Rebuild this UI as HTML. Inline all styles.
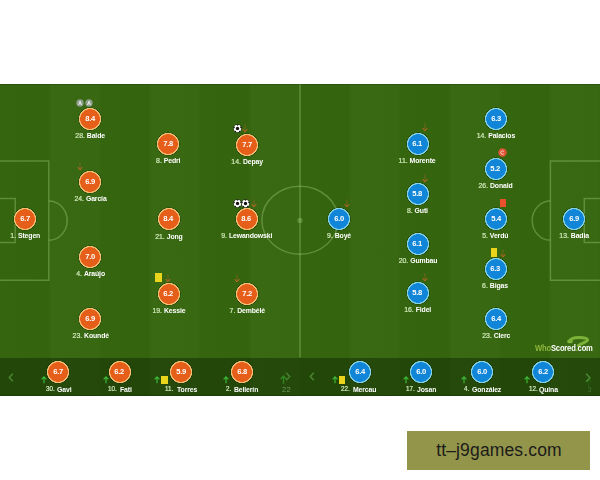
<!DOCTYPE html>
<html><head><meta charset="utf-8"><title>Lineups</title>
<style>
html,body{margin:0;padding:0;background:#fff}
body{width:600px;height:480px;position:relative;overflow:hidden;font-family:"Liberation Sans",sans-serif}
#pitch{position:absolute;left:0;top:84px;width:600px;height:311.5px;overflow:hidden;
 background:repeating-linear-gradient(90deg,#36650f 0,#35640f 48.5px,#3a6914 51.5px,#396813 98.5px,#36650f 101.5px,#35640f 148.5px,#3a6914 151.5px,#396813 198.5px,#36650f 200px)}
#wrap{position:absolute;left:0;top:-84px;width:600px;height:480px;will-change:transform}
#bench{position:absolute;left:0;top:357.5px;width:600px;height:38px;background:rgba(10,30,0,.42)}
.ln{position:absolute;border:1px solid rgba(190,225,150,.34);box-sizing:border-box}
.c{position:absolute;width:24px;height:24px;margin:-1px 0 0 -1px;border-radius:50%;text-align:center;
 line-height:24.8px;color:#fff;font-weight:bold;font-size:8px;letter-spacing:-.3px}
.c span{display:inline-block;transform:scaleX(.95)}
.c.h{background:radial-gradient(circle closest-side,#e55f1b 0,#e55f1b 79.5%,#f2c070 83.5%,#f2c070 90.5%,rgba(20,40,5,.6) 94%,rgba(20,40,5,0) 100%)}
.c.a{background:radial-gradient(circle closest-side,#1185d7 0,#1185d7 79.5%,#84d3e2 83.5%,#84d3e2 90.5%,rgba(20,40,5,.6) 94%,rgba(20,40,5,0) 100%)}
.l{position:absolute;width:80px;text-align:center;font-size:7.5px;line-height:10px;color:#fff;white-space:nowrap}
.l .t{display:inline-block;transform:scaleX(.92);transform-origin:50% 50%}
.l i{font-style:normal;color:#d3ecbc;-webkit-text-stroke:.2px #d3ecbc}
.l b{font-weight:bold;letter-spacing:-.15px}
.bn{position:absolute;font-size:6.6px;line-height:9px;color:#d6ecc4;-webkit-text-stroke:.2px #d6ecc4;white-space:nowrap;transform:scaleX(.95);transform-origin:0 50%}
.bm{position:absolute;font-size:7.5px;line-height:10px;color:#fff;font-weight:bold;white-space:nowrap;letter-spacing:-.15px;transform:scaleX(.92);transform-origin:0 50%}
.ic{position:absolute;display:block}
#box{position:absolute;left:407px;top:431px;width:183px;height:39px;background:#93954a;color:#1b1b1b;
 font-size:17.5px;line-height:39.6px;text-align:center;letter-spacing:.15px;text-indent:1px}
#ws{position:absolute;left:535px;top:342.5px;font-size:8.2px;line-height:11px;font-weight:bold;color:#fff;white-space:nowrap;letter-spacing:-.2px;transform:scaleX(.93);transform-origin:0 50%}
#ws u{text-decoration:none;color:#8db63c}
</style></head><body>
<div id="pitch"><div id="wrap">
<div id="bench"></div>
<!-- pitch markings -->
<svg class="ic" style="left:0;top:84px" width="600" height="274" viewBox="0 84 600 274"><g fill="none" stroke="rgba(178,222,140,.33)" stroke-width="1.5">
<path d="M300 84V357.5"/>
<ellipse cx="300" cy="220.2" rx="38.1" ry="34"/>
<path d="M-2 161H48.8V280.2H-2"/>
<path d="M-2 198.4H15.2V242.4H-2"/>
<path d="M48.8 201A18.4 19.6 0 0 1 48.8 240.2"/>
<path d="M602 161H550.4V280.2H602"/>
<path d="M602 198.5H584.3V242.6H602"/>
<path d="M550.4 201A18.2 19.6 0 0 0 550.4 240.2"/>
</g><circle cx="300" cy="220.4" r="2.6" fill="rgba(178,222,140,.3)"/></svg>
<div style="position:absolute;left:0;top:84px;width:600px;height:1px;background:rgba(20,40,0,.28)"></div>
<div style="position:absolute;left:0;top:394.5px;width:600px;height:1px;background:rgba(10,25,0,.3)"></div>
<!-- chevrons -->
<svg class="ic" style="left:7.5px;top:372.5px" width="6" height="9" viewBox="0 0 6 9"><path d="M4.8 .8L1.3 4.5L4.8 8.2" fill="none" stroke="#4b8731" stroke-width="1.5"/></svg>
<svg class="ic" style="left:309px;top:371.8px" width="6" height="9" viewBox="0 0 6 9"><path d="M4.8 .8L1.3 4.5L4.8 8.2" fill="none" stroke="#4b8731" stroke-width="1.5"/></svg>
<svg class="ic" style="left:284.5px;top:371.5px" width="6" height="9" viewBox="0 0 6 9"><path d="M1.2 .8L4.7 4.5L1.2 8.2" fill="none" stroke="#47802e" stroke-width="1.5"/></svg>
<svg class="ic" style="left:585px;top:372.5px" width="6" height="9.5" viewBox="0 0 6 9.5"><path d="M1.2 .8L4.9 4.8L1.2 8.7" fill="none" stroke="#4b8731" stroke-width="1.6"/></svg>
<svg class="ic" style="left:280px;top:375px;opacity:.5" width="7" height="9" viewBox="0 0 7 9"><path d="M3.5 8.8V1.2M0.7 4L3.5 1L6.3 4" fill="none" stroke="#3fc23a" stroke-width="1.4"/></svg>
<svg class="ic" style="left:584.5px;top:377.5px;opacity:.13" width="7" height="9" viewBox="0 0 7 9"><path d="M3.5 8.5V1.2M0.7 4L3.5 1L6.3 4" fill="none" stroke="#3fc23a" stroke-width="1.3"/></svg>
<div class="bn" style="left:281.5px;top:384.6px;color:#6c9a5a;-webkit-text-stroke:0;font-size:8px;letter-spacing:.2px">22</div>
<div class="bn" style="left:588.3px;top:385px;color:#437a32;-webkit-text-stroke:0;font-size:6.5px">3</div>
<!-- watermark logo -->
<svg class="ic" style="left:565px;top:334px" width="26" height="14" viewBox="0 0 26 14"><path d="M4.2 7.4C5.5 4.2 10 3.4 14 3.4C18.5 3.4 22.6 4.2 22.6 6.1C22.6 7.9 17 8.9 13.4 11.4" fill="none" stroke="#7db238" stroke-width="3" stroke-linecap="round"/><ellipse cx="5" cy="7.4" rx="2.8" ry="1.9" fill="#7db238"/></svg>
<div id="ws"><u>Who</u>Scored<u>.</u>com</div>
<div class="c h" style="left:14.2px;top:208.2px"><span>6.7</span></div><div class="l" style="left:-14.8px;top:231.1px"><span class="t"><i>1.</i> <b>Stegen</b></span></div>
<div class="c h" style="left:79.2px;top:108.0px"><span>8.4</span></div><div class="l" style="left:50.2px;top:131.3px"><span class="t"><i>28.</i> <b>Balde</b></span></div><svg class="ic" style="left:76.0px;top:99.0px" width="8" height="8" viewBox="0 0 8 8"><circle cx="4" cy="4" r="3.7" fill="#8c9c8a"/><path d="M2.5 6L4 2L5.5 6M3 4.8H5" fill="none" stroke="#e8eee6" stroke-width=".9"/></svg><svg class="ic" style="left:85.0px;top:99.0px" width="8" height="8" viewBox="0 0 8 8"><circle cx="4" cy="4" r="3.7" fill="#8c9c8a"/><path d="M2.5 6L4 2L5.5 6M3 4.8H5" fill="none" stroke="#e8eee6" stroke-width=".9"/></svg>
<div class="c h" style="left:79.2px;top:170.7px"><span>6.9</span></div><div class="l" style="left:50.2px;top:194.2px"><span class="t"><i>24.</i> <b>Garcia</b></span></div><svg class="ic" style="left:77.4px;top:161.5px" width="6" height="8.5" viewBox="0 0 6 8.5"><path d="M3 0.3V7.6" fill="none" stroke="#c0662a" stroke-width="1" opacity=".45"/><path d="M0.6 5.2L3 7.8L5.4 5.2" fill="none" stroke="#c8662a" stroke-width="1.1" opacity=".75"/></svg>
<div class="c h" style="left:79.4px;top:245.7px"><span>7.0</span></div><div class="l" style="left:50.4px;top:268.8px"><span class="t"><i>4.</i> <b>Araújo</b></span></div>
<div class="c h" style="left:79.3px;top:308.1px"><span>6.9</span></div><div class="l" style="left:50.3px;top:331.1px"><span class="t"><i>23.</i> <b>Koundé</b></span></div>
<div class="c h" style="left:157.2px;top:133.2px"><span>7.8</span></div><div class="l" style="left:128.2px;top:156.3px"><span class="t"><i>8.</i> <b>Pedri</b></span></div>
<div class="c h" style="left:157.5px;top:208.0px"><span>8.4</span></div><div class="l" style="left:128.5px;top:231.5px"><span class="t"><i>21.</i> <b>Jong</b></span></div>
<div class="c h" style="left:157.5px;top:282.8px"><span>6.2</span></div><div class="l" style="left:128.5px;top:306.1px"><span class="t"><i>19.</i> <b>Kessie</b></span></div><div class="ic" style="left:155.2px;top:273.0px;width:6.5px;height:8.8px;background:#ead41c"></div><svg class="ic" style="left:165.0px;top:273.6px" width="6" height="8.5" viewBox="0 0 6 8.5"><path d="M3 0.3V7.6" fill="none" stroke="#c0662a" stroke-width="1" opacity=".45"/><path d="M0.6 5.2L3 7.8L5.4 5.2" fill="none" stroke="#c8662a" stroke-width="1.1" opacity=".75"/></svg>
<div class="c h" style="left:236.0px;top:133.5px"><span>7.7</span></div><div class="l" style="left:207.0px;top:156.6px"><span class="t"><i>14.</i> <b>Depay</b></span></div><svg class="ic" style="left:232.5px;top:123.5px" width="9" height="9" viewBox="0 0 9 9"><circle cx="4.5" cy="4.5" r="4.2" fill="#1d2a12"/><circle cx="4.5" cy="4.5" r="3.7" fill="#fff"/><circle cx="4.5" cy="4.5" r="1.65" fill="#111"/><circle cx="4.5" cy="0.9" r=".8" fill="#222"/><circle cx="1.1" cy="3.4" r=".8" fill="#222"/><circle cx="7.9" cy="3.4" r=".8" fill="#222"/><circle cx="2.4" cy="7.5" r=".8" fill="#222"/><circle cx="6.6" cy="7.5" r=".8" fill="#222"/></svg><svg class="ic" style="left:242.0px;top:124.3px" width="6" height="8.5" viewBox="0 0 6 8.5"><path d="M3 0.3V7.6" fill="none" stroke="#c0662a" stroke-width="1" opacity=".45"/><path d="M0.6 5.2L3 7.8L5.4 5.2" fill="none" stroke="#c8662a" stroke-width="1.1" opacity=".75"/></svg>
<div class="c h" style="left:235.6px;top:208.1px"><span>8.6</span></div><div class="l" style="left:206.6px;top:231.1px"><span class="t"><i>9.</i> <b>Lewandowski</b></span></div><svg class="ic" style="left:232.5px;top:198.6px" width="9" height="9" viewBox="0 0 9 9"><circle cx="4.5" cy="4.5" r="4.2" fill="#1d2a12"/><circle cx="4.5" cy="4.5" r="3.7" fill="#fff"/><circle cx="4.5" cy="4.5" r="1.65" fill="#111"/><circle cx="4.5" cy="0.9" r=".8" fill="#222"/><circle cx="1.1" cy="3.4" r=".8" fill="#222"/><circle cx="7.9" cy="3.4" r=".8" fill="#222"/><circle cx="2.4" cy="7.5" r=".8" fill="#222"/><circle cx="6.6" cy="7.5" r=".8" fill="#222"/></svg><svg class="ic" style="left:240.9px;top:198.6px" width="9" height="9" viewBox="0 0 9 9"><circle cx="4.5" cy="4.5" r="4.2" fill="#1d2a12"/><circle cx="4.5" cy="4.5" r="3.7" fill="#fff"/><circle cx="4.5" cy="4.5" r="1.65" fill="#111"/><circle cx="4.5" cy="0.9" r=".8" fill="#222"/><circle cx="1.1" cy="3.4" r=".8" fill="#222"/><circle cx="7.9" cy="3.4" r=".8" fill="#222"/><circle cx="2.4" cy="7.5" r=".8" fill="#222"/><circle cx="6.6" cy="7.5" r=".8" fill="#222"/></svg><svg class="ic" style="left:251.2px;top:198.9px" width="6" height="8.5" viewBox="0 0 6 8.5"><path d="M3 0.3V7.6" fill="none" stroke="#c0662a" stroke-width="1" opacity=".45"/><path d="M0.6 5.2L3 7.8L5.4 5.2" fill="none" stroke="#c8662a" stroke-width="1.1" opacity=".75"/></svg>
<div class="c h" style="left:236.0px;top:283.0px"><span>7.2</span></div><div class="l" style="left:207.0px;top:306.4px"><span class="t"><i>7.</i> <b>Dembélé</b></span></div><svg class="ic" style="left:234.3px;top:273.8px" width="6" height="8.5" viewBox="0 0 6 8.5"><path d="M3 0.3V7.6" fill="none" stroke="#c0662a" stroke-width="1" opacity=".45"/><path d="M0.6 5.2L3 7.8L5.4 5.2" fill="none" stroke="#c8662a" stroke-width="1.1" opacity=".75"/></svg>
<div class="c a" style="left:328.2px;top:207.8px"><span>6.0</span></div><div class="l" style="left:299.2px;top:231.1px"><span class="t"><i>9.</i> <b>Boyé</b></span></div><svg class="ic" style="left:344.4px;top:198.6px" width="6" height="8.5" viewBox="0 0 6 8.5"><path d="M3 0.3V7.6" fill="none" stroke="#c0662a" stroke-width="1" opacity=".45"/><path d="M0.6 5.2L3 7.8L5.4 5.2" fill="none" stroke="#c8662a" stroke-width="1.1" opacity=".75"/></svg>
<div class="c a" style="left:406.5px;top:132.5px"><span>6.1</span></div><div class="l" style="left:377.5px;top:155.8px"><span class="t"><i>11.</i> <b>Morente</b></span></div><svg class="ic" style="left:422.1px;top:123.3px" width="6" height="8.5" viewBox="0 0 6 8.5"><path d="M3 0.3V7.6" fill="none" stroke="#c0662a" stroke-width="1" opacity=".45"/><path d="M0.6 5.2L3 7.8L5.4 5.2" fill="none" stroke="#c8662a" stroke-width="1.1" opacity=".75"/></svg>
<div class="c a" style="left:406.6px;top:183.0px"><span>5.8</span></div><div class="l" style="left:377.6px;top:206.1px"><span class="t"><i>8.</i> <b>Guti</b></span></div><svg class="ic" style="left:422.3px;top:173.8px" width="6" height="8.5" viewBox="0 0 6 8.5"><path d="M3 0.3V7.6" fill="none" stroke="#c0662a" stroke-width="1" opacity=".45"/><path d="M0.6 5.2L3 7.8L5.4 5.2" fill="none" stroke="#c8662a" stroke-width="1.1" opacity=".75"/></svg>
<div class="c a" style="left:406.6px;top:232.7px"><span>6.1</span></div><div class="l" style="left:377.6px;top:255.8px"><span class="t"><i>20.</i> <b>Gumbau</b></span></div>
<div class="c a" style="left:406.6px;top:282.1px"><span>5.8</span></div><div class="l" style="left:377.6px;top:305.4px"><span class="t"><i>16.</i> <b>Fidel</b></span></div><svg class="ic" style="left:422.1px;top:272.9px" width="6" height="8.5" viewBox="0 0 6 8.5"><path d="M3 0.3V7.6" fill="none" stroke="#c0662a" stroke-width="1" opacity=".45"/><path d="M0.6 5.2L3 7.8L5.4 5.2" fill="none" stroke="#c8662a" stroke-width="1.1" opacity=".75"/></svg>
<div class="c a" style="left:484.8px;top:107.8px"><span>6.3</span></div><div class="l" style="left:455.8px;top:131.4px"><span class="t"><i>14.</i> <b>Palacios</b></span></div>
<div class="c a" style="left:484.6px;top:158.0px"><span>5.2</span></div><div class="l" style="left:455.6px;top:181.1px"><span class="t"><i>26.</i> <b>Donald</b></span></div><svg class="ic" style="left:498.3px;top:148.0px" width="9" height="9" viewBox="0 0 9 9"><circle cx="4.5" cy="4.5" r="4.2" fill="#df5535"/><path d="M5.8 3.5A1.7 1.7 0 1 0 5.8 5.7" fill="none" stroke="#fbe9e2" stroke-width=".9"/></svg>
<div class="c a" style="left:484.7px;top:207.7px"><span>5.4</span></div><div class="l" style="left:455.7px;top:231.1px"><span class="t"><i>5.</i> <b>Verdú</b></span></div><div class="ic" style="left:500.0px;top:198.5px;width:6px;height:8px;background:#e8512c"></div>
<div class="c a" style="left:484.5px;top:258.0px"><span>6.3</span></div><div class="l" style="left:455.5px;top:281.1px"><span class="t"><i>6.</i> <b>Bigas</b></span></div><div class="ic" style="left:490.7px;top:247.9px;width:6.5px;height:8.8px;background:#ead41c"></div><svg class="ic" style="left:500.0px;top:248.8px" width="6" height="8.5" viewBox="0 0 6 8.5"><path d="M3 0.3V7.6" fill="none" stroke="#c0662a" stroke-width="1" opacity=".45"/><path d="M0.6 5.2L3 7.8L5.4 5.2" fill="none" stroke="#c8662a" stroke-width="1.1" opacity=".75"/></svg>
<div class="c a" style="left:484.8px;top:307.5px"><span>6.4</span></div><div class="l" style="left:455.8px;top:331.1px"><span class="t"><i>23.</i> <b>Clerc</b></span></div>
<div class="c a" style="left:562.9px;top:207.7px"><span>6.9</span></div><div class="l" style="left:533.9px;top:230.7px"><span class="t"><i>13.</i> <b>Badia</b></span></div>
<div class="c h" style="left:47.0px;top:360.9px"><span>6.7</span></div><div class="bn" style="left:45.5px;top:383.9px">30.</div><div class="bm" style="left:57.0px;top:384.9px">Gavi</div><svg class="ic" style="left:41.0px;top:376.4px" width="6" height="7.4" viewBox="0 0 6 7.4"><path d="M3 7.2V1M0.6 3.4L3 0.9L5.4 3.4" fill="none" stroke="#3dbb38" stroke-width="1.15"/></svg>
<div class="c h" style="left:108.5px;top:360.9px"><span>6.2</span></div><div class="bn" style="left:108.0px;top:383.9px">10.</div><div class="bm" style="left:119.5px;top:384.9px">Fati</div><svg class="ic" style="left:103.0px;top:376.4px" width="6" height="7.4" viewBox="0 0 6 7.4"><path d="M3 7.2V1M0.6 3.4L3 0.9L5.4 3.4" fill="none" stroke="#3dbb38" stroke-width="1.15"/></svg>
<div class="c h" style="left:170.0px;top:360.9px"><span>5.9</span></div><div class="bn" style="left:165.0px;top:383.9px">11.</div><div class="bm" style="left:176.8px;top:384.9px">Torres</div><svg class="ic" style="left:154.0px;top:376.4px" width="6" height="7.4" viewBox="0 0 6 7.4"><path d="M3 7.2V1M0.6 3.4L3 0.9L5.4 3.4" fill="none" stroke="#3dbb38" stroke-width="1.15"/></svg><div class="ic" style="left:161.4px;top:375.5px;width:6.5px;height:8.8px;background:#ead41c"></div>
<div class="c h" style="left:231.0px;top:360.9px"><span>6.8</span></div><div class="bn" style="left:225.8px;top:383.9px">2.</div><div class="bm" style="left:233.5px;top:384.9px">Bellerín</div><svg class="ic" style="left:223.0px;top:376.4px" width="6" height="7.4" viewBox="0 0 6 7.4"><path d="M3 7.2V1M0.6 3.4L3 0.9L5.4 3.4" fill="none" stroke="#3dbb38" stroke-width="1.15"/></svg>
<div class="c a" style="left:349.0px;top:360.9px"><span>6.4</span></div><div class="bn" style="left:341.0px;top:383.9px">22.</div><div class="bm" style="left:353.0px;top:384.9px">Mercau</div><svg class="ic" style="left:331.7px;top:376.4px" width="6" height="7.4" viewBox="0 0 6 7.4"><path d="M3 7.2V1M0.6 3.4L3 0.9L5.4 3.4" fill="none" stroke="#3dbb38" stroke-width="1.15"/></svg><div class="ic" style="left:338.7px;top:375.5px;width:6.5px;height:8.8px;background:#ead41c"></div>
<div class="c a" style="left:409.8px;top:360.9px"><span>6.0</span></div><div class="bn" style="left:406.0px;top:383.9px">17.</div><div class="bm" style="left:417.4px;top:384.9px">Josan</div><svg class="ic" style="left:402.5px;top:376.4px" width="6" height="7.4" viewBox="0 0 6 7.4"><path d="M3 7.2V1M0.6 3.4L3 0.9L5.4 3.4" fill="none" stroke="#3dbb38" stroke-width="1.15"/></svg>
<div class="c a" style="left:471.0px;top:360.9px"><span>6.0</span></div><div class="bn" style="left:463.5px;top:383.9px">4.</div><div class="bm" style="left:471.5px;top:384.9px">González</div><svg class="ic" style="left:461.0px;top:376.4px" width="6" height="7.4" viewBox="0 0 6 7.4"><path d="M3 7.2V1M0.6 3.4L3 0.9L5.4 3.4" fill="none" stroke="#3dbb38" stroke-width="1.15"/></svg>
<div class="c a" style="left:532.2px;top:360.9px"><span>6.2</span></div><div class="bn" style="left:528.5px;top:383.9px">12.</div><div class="bm" style="left:539.2px;top:384.9px">Quina</div><svg class="ic" style="left:524.2px;top:376.4px" width="6" height="7.4" viewBox="0 0 6 7.4"><path d="M3 7.2V1M0.6 3.4L3 0.9L5.4 3.4" fill="none" stroke="#3dbb38" stroke-width="1.15"/></svg>
</div></div>
<div id="box">tt&#8211;j9games.com</div>
</body></html>
